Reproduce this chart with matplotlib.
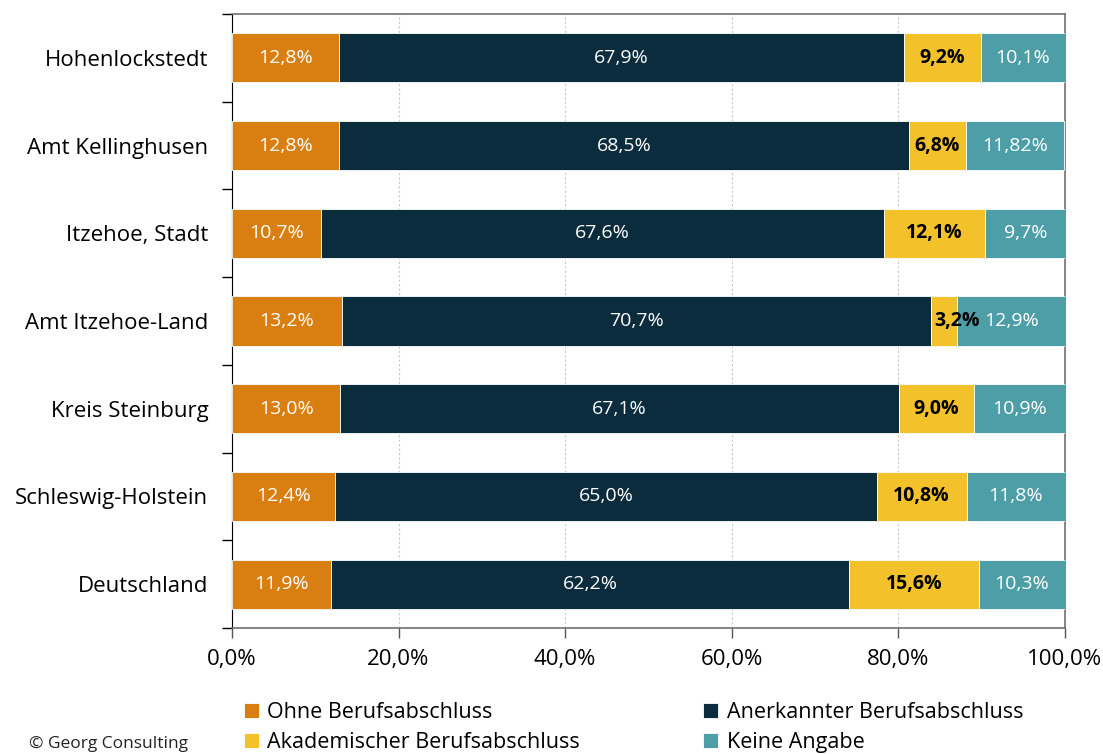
import matplotlib.pyplot as plt
import numpy as np

plt.rcParams['font.family'] = ['Open Sans', 'DejaVu Sans']

regions = ["Hohenlockstedt", "Amt Kellinghusen", "Itzehoe, Stadt", "Amt Itzehoe-Land",
           "Kreis Steinburg", "Schleswig-Holstein", "Deutschland"]
ohne = [12.8, 12.8, 10.7, 13.2, 13.0, 12.4, 11.9]
anerkannt = [67.9, 68.5, 67.6, 70.7, 67.1, 65.0, 62.2]
akademisch = [9.2, 6.8, 12.1, 3.2, 9.0, 10.8, 15.6]
keine = [10.1, 11.82, 9.7, 12.9, 10.9, 11.8, 10.3]

series = [("Ohne Berufsabschluss", ohne, "#D97F12", "white", "normal"),
          ("Anerkannter Berufsabschluss", anerkannt, "#0A2C3D", "white", "normal"),
          ("Akademischer Berufsabschluss", akademisch, "#F3C12A", "black", "bold"),
          ("Keine Angabe", keine, "#4E9EA8", "white", "normal")]


def fmt(v):
    s = "%.2f" % v if round(v, 1) != v else "%.1f" % v
    return s.replace(".", ",") + "%"


fig = plt.figure(figsize=(11.03, 7.54), dpi=100)
ax = fig.add_axes([0.2103, 0.1671, 0.7552, 0.8143])

y = np.arange(len(regions))
left = np.zeros(len(regions))
bars = {}
for name, vals, col, tcol, weight in series:
    vals = np.array(vals)
    b = ax.barh(y, vals, left=left, height=0.56, color=col, edgecolor="white",
                linewidth=0.6, label=name, zorder=3)
    bars[name] = b
    for yi, l, v in zip(y, left, vals):
        # small segments: label pushed a bit to the right like the original
        xc = l + v / 2 if v > 5 else l + v / 2 + 1.5
        ax.text(xc, yi, fmt(v), ha="center", va="center", color=tcol,
                fontsize=14, fontweight=weight, zorder=4)
    left = left + vals

ax.set_xlim(0, 100)
ax.set_ylim(len(regions) - 0.5, -0.5)
ax.set_xticks(np.arange(0, 101, 20))
ax.set_xticklabels(["%d,0%%" % v for v in range(0, 101, 20)], fontsize=16)
ax.set_yticks(y)
ax.set_yticklabels(regions, fontsize=16)
ax.tick_params(axis="y", length=0, pad=17)
ax.set_yticks(np.arange(-0.5, len(regions), 1), minor=True)
ax.tick_params(axis="y", which="minor", length=7, width=1, color="black")
ax.tick_params(axis="x", length=7, width=1, color="#555555", pad=8)

ax.xaxis.grid(True, linestyle=(0, (2, 2)), color="#C8C8C8", linewidth=0.8, zorder=0)
ax.spines["left"].set_color("black")
for s in ["top", "right", "bottom"]:
    ax.spines[s].set_color("#707070")
    ax.spines[s].set_linewidth(1.2)

handles = [bars["Ohne Berufsabschluss"], bars["Akademischer Berufsabschluss"],
           bars["Anerkannter Berufsabschluss"], bars["Keine Angabe"]]
labels = ["Ohne Berufsabschluss", "Akademischer Berufsabschluss",
          "Anerkannter Berufsabschluss", "Keine Angabe"]
fig.legend(handles, labels, ncol=2, loc="upper left", bbox_to_anchor=(0.221, 0.069),
           frameon=False, fontsize=15.5, handlelength=0.7, handleheight=0.7,
           handletextpad=0.4, columnspacing=5.7, labelspacing=0.4,
           borderpad=0, borderaxespad=0)

fig.text(0.026, 0.002, "\u00a9 Georg Consulting", fontsize=12.5, color="#222222",
         va="bottom")

fig.savefig("out.png", dpi=100)
